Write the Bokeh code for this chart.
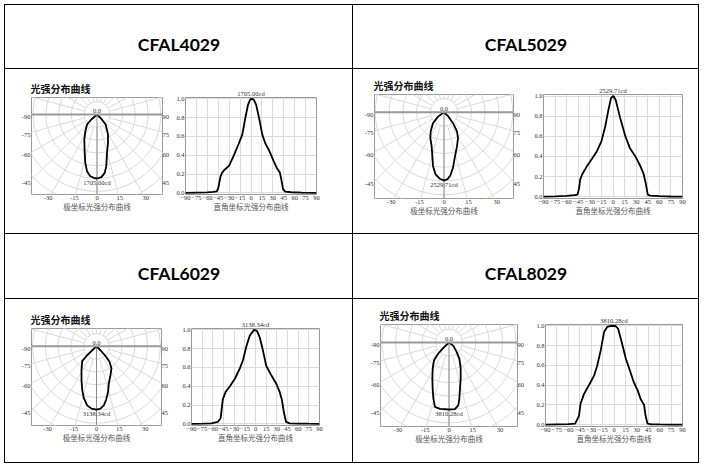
import numpy as np
from bokeh.plotting import figure
from bokeh.layouts import row, column
from bokeh.models import (Range1d, Label, FixedTicker, PrintfTickFormatter, Spacer, Title,
                          LinearAxis, CustomJSTickFormatter, Span)
from bokeh.embed import file_html
from bokeh.resources import INLINE

# ---------------- data ----------------
products = ["CFAL4029", "CFAL5029", "CFAL6029", "CFAL8029"]
peak_cd = ["1705.00cd", "2529.71cd", "3138.34cd", "3810.28cd"]
polar_title = "光强分布曲线"
polar_caption = "极坐标光强分布曲线"
cart_caption = "直角坐标光强分布曲线"
polar_left_ticks = [-90, -75, -60, -45]
polar_right_ticks = [90, 75, 60, 45]
polar_bottom_ticks = [-30, -15, 0, 15, 30]
polar_center_label = "0.0"
cart_x_ticks = [-90, -75, -60, -45, -30, -15, 0, 15, 30, 45, 60, 75, 90]
cart_y_ticks = [0.0, 0.2, 0.4, 0.6, 0.8, 1.0]
grid_radii = [0.2, 0.4, 0.6, 0.8, 1.0, 1.2, 1.4, 1.6, 1.8, 2.0]
ray_angles = list(range(0, 360, 15))

# polar curves (angle from nadir in degrees, relative intensity)
polar_ang_4029 = [-90, -48.6, -45, -35, -26.9, -17.8, -13.6, -10, -6.2, -3, 0, 4, 7.5, 10.2, 14.6, 21.2, 28.8, 40.9, 45, 90]
polar_r_4029 = [0, 0.118, 0.22, 0.318, 0.438, 0.63, 0.777, 0.9, 0.97, 0.99, 1.0, 0.98, 0.92, 0.82, 0.62, 0.475, 0.357, 0.207, 0.096, 0]
polar_ang_5029 = [-90, -54.2, -45, -34.6, -27.7, -19.8, -14.7, -11.4, -7.6, -3.7, 0, 2.8, 5.7, 9.1, 13.1, 20.7, 28.3, 33.9, 39.3, 47.5, 90]
polar_r_5029 = [0, 0.108, 0.227, 0.342, 0.428, 0.531, 0.668, 0.807, 0.921, 0.978, 1.0, 0.987, 0.932, 0.826, 0.688, 0.535, 0.43, 0.339, 0.207, 0.079, 0]
polar_ang_6029 = [-90, -47.3, -46, -43.7, -32, -23.8, -18, -13.6, -8.9, -4.5, 0, 3.6, 7, 10.1, 14.3, 18.3, 25.8, 33.9, 39.7, 42.8, 45, 90]
polar_r_6029 = [0, 0.092, 0.203, 0.324, 0.442, 0.581, 0.723, 0.841, 0.944, 0.987, 1.0, 0.986, 0.939, 0.857, 0.736, 0.614, 0.503, 0.42, 0.318, 0.192, 0.088, 0]
polar_ang_8029 = [-90, -46.7, -44.1, -40.3, -32.1, -24.8, -19.6, -15.6, -12.3, -7.7, 0, 5.1, 8.5, 10.5, 13.4, 18, 24.2, 32.9, 39.4, 52.4, 90]
polar_r_8029 = [0, 0.116, 0.229, 0.346, 0.458, 0.592, 0.728, 0.868, 0.983, 1.0, 1.0, 0.999, 0.945, 0.85, 0.706, 0.565, 0.425, 0.284, 0.18, 0.082, 0]

# cartesian curves
cart_ang_4029 = [-90, -75, -60, -52, -47, -45, -42, -40, -37, -30, -24, -17, -12, -7.5, -4, -1, 1, 4, 7, 11, 15.5, 20, 25, 31, 35, 39.5, 41.5, 44, 47, 55, 70, 90]
cart_val_4029 = [0, 0.002, 0.004, 0.01, 0.015, 0.05, 0.17, 0.21, 0.24, 0.29, 0.39, 0.52, 0.62, 0.81, 0.94, 0.995, 1.0, 0.99, 0.94, 0.8, 0.62, 0.52, 0.45, 0.34, 0.27, 0.22, 0.15, 0.04, 0.012, 0.006, 0.003, 0]
cart_ang_5029 = [-90, -75, -60, -50, -46, -44, -42.5, -40, -34, -27, -21, -15, -10, -6, -2.5, 0.5, 3.5, 9, 16, 22, 29, 35, 39.5, 42.5, 45, 48, 60, 75, 90]
cart_val_5029 = [0, 0.003, 0.008, 0.015, 0.02, 0.08, 0.17, 0.22, 0.30, 0.38, 0.45, 0.55, 0.70, 0.86, 0.98, 1.0, 0.96, 0.79, 0.60, 0.48, 0.40, 0.31, 0.23, 0.13, 0.02, 0.01, 0.005, 0.002, 0]
cart_ang_6029 = [-90, -75, -62, -53, -49, -46, -42, -36, -29, -22, -17.5, -13, -8, -2, 2, 6, 10.5, 15, 22, 29, 34, 37, 40, 43, 48, 60, 75, 90]
cart_val_6029 = [0, 0.002, 0.005, 0.02, 0.06, 0.26, 0.34, 0.40, 0.48, 0.59, 0.68, 0.82, 0.94, 1.0, 0.99, 0.92, 0.78, 0.62, 0.52, 0.43, 0.34, 0.26, 0.12, 0.02, 0.005, 0.003, 0.001, 0]
cart_ang_8029 = [-90, -75, -60, -51, -46, -44, -39.5, -33, -26, -22, -17.5, -13, -9, -4, 2, 5.5, 10, 15.5, 20, 26, 31, 35, 39.5, 41.5, 44, 48, 60, 75, 90]
cart_val_8029 = [0, 0.003, 0.006, 0.012, 0.09, 0.21, 0.31, 0.40, 0.50, 0.60, 0.75, 0.94, 0.99, 1.0, 1.0, 0.97, 0.84, 0.67, 0.57, 0.43, 0.35, 0.26, 0.2, 0.09, 0.012, 0.005, 0.003, 0.001, 0]

polar_data = [(polar_ang_4029, polar_r_4029), (polar_ang_5029, polar_r_5029),
              (polar_ang_6029, polar_r_6029), (polar_ang_8029, polar_r_8029)]
cart_data = [(cart_ang_4029, cart_val_4029), (cart_ang_5029, cart_val_5029),
             (cart_ang_6029, cart_val_6029), (cart_ang_8029, cart_val_8029)]

# ---------------- styling / layout ----------------
SERIF = "Liberation Serif"
CJK = "Noto Sans CJK SC"
TICK_SIZE = "6.5px"
TICK_COLOR = "#333333"
GRID = "#dadada"
FRAME = "#9a9a9a"

cells = [
    dict(H=164, pw=168, pl=26, pt=28, pfw=131, pfh=97, oy=17, s=64.0,
         cw=179, cl=12, ct=28, cfw=131, cfh=97),
    dict(H=164, pw=172, pl=21, pt=25, pfw=139, pfh=105, oy=18, s=68.7,
         cw=173, cl=18, ct=24, cfw=139, cfh=105),
    dict(H=163, pw=168, pl=26, pt=28, pfw=130, pfh=98, oy=18, s=64.0,
         cw=179, cl=18, ct=29, cfw=128, cfh=98),
    dict(H=163, pw=174, pl=27, pt=25, pfw=137, pfh=102, oy=18, s=67.0,
         cw=171, cl=18, ct=25, cfw=137, cfh=102),
]

JS_LOOKUP = """
const k = (tick + 0).toFixed(4);
const i = keys.indexOf(k);
return i >= 0 ? labels[i] : "";
"""


def style_axis(ax, standoff=1):
    ax.axis_line_color = None
    ax.major_tick_line_color = None
    ax.minor_tick_line_color = None
    ax.major_tick_out = 0
    ax.major_tick_in = 0
    ax.minor_tick_out = 0
    ax.minor_tick_in = 0
    ax.major_label_text_font = SERIF
    ax.major_label_text_font_size = TICK_SIZE
    ax.major_label_text_color = TICK_COLOR
    ax.major_label_standoff = standoff


def angle_axis(positions, names, standoff):
    pos = [round(float(v), 4) + 0.0 for v in positions]
    order = np.argsort(pos)
    pos = [pos[i] for i in order]
    names = [str(names[i]) for i in order]
    fmt = CustomJSTickFormatter(args=dict(keys=[f"{v:.4f}" for v in pos], labels=names),
                                code=JS_LOOKUP)
    ax = LinearAxis(ticker=FixedTicker(ticks=pos), formatter=fmt)
    style_axis(ax, standoff)
    return ax


def polar_fig(g, H, ang, rr, peak):
    W, left, top, fw, fh, oy, s = g["pw"], g["pl"], g["pt"], g["pfw"], g["pfh"], g["oy"], g["s"]
    right = W - left - fw
    bottom = H - top - fh
    px = 1.0 / s
    xl, xr = -fw / 2.0 * px, fw / 2.0 * px
    yt, yb = oy * px, -(fh - oy) * px
    p = figure(width=W, height=H, x_range=Range1d(xl, xr), y_range=Range1d(yb, yt),
               min_border_left=left, min_border_right=right, min_border_top=top,
               min_border_bottom=bottom, toolbar_location=None, output_backend="svg",
               x_axis_location=None, y_axis_location=None, title=None)
    p.xgrid.visible = False
    p.ygrid.visible = False
    p.outline_line_color = FRAME
    p.add_layout(Title(text=polar_title, align="left", offset=-1, standoff=3,
                       text_font=CJK, text_font_size="10px", text_font_style="bold",
                       text_color="#111111"), "above")
    # grid circles and rays (clipped by the frame)
    p.circle(x=[0] * len(grid_radii), y=[0] * len(grid_radii), radius=grid_radii,
             fill_color=None, line_color=GRID, line_width=1)
    a = np.radians(ray_angles)
    r0, r1 = grid_radii[0], 4.0
    p.segment(x0=r0 * np.sin(a), y0=-r0 * np.cos(a), x1=r1 * np.sin(a), y1=-r1 * np.cos(a),
              line_color=GRID, line_width=1)
    p.add_layout(Span(location=0, dimension="width", line_color=FRAME, line_width=2))
    p.segment(x0=[0], y0=[0], x1=[0], y1=[yb], line_color="#8a8a8a", line_width=1)
    # curve
    ar = np.radians(ang)
    rr = np.array(rr)
    p.line(rr * np.sin(ar), -rr * np.cos(ar), line_color="black", line_width=1.8)
    # angle labels as axes placed where the rays leave the chart box
    la = np.radians(polar_left_ticks)
    ax_l = angle_axis(-xl * np.cos(la) / np.sin(la) - 2.5 * px, polar_left_ticks, 1)
    p.add_layout(ax_l, "left")
    ra = np.radians(polar_right_ticks)
    ax_r = angle_axis(-xr * np.cos(ra) / np.sin(ra) - 2.5 * px, polar_right_ticks, 0)
    p.add_layout(ax_r, "right")
    ba = np.radians(polar_bottom_ticks)
    Y = yb - 4.5 * px
    ax_b = angle_axis(-Y * np.tan(ba), polar_bottom_ticks, 1)
    ax_b.axis_label = polar_caption
    ax_b.axis_label_text_font = CJK
    ax_b.axis_label_text_font_size = "7.5px"
    ax_b.axis_label_text_font_style = "normal"
    ax_b.axis_label_text_color = "#555555"
    ax_b.axis_label_standoff = -2
    p.add_layout(ax_b, "below")
    # in-chart labels
    p.add_layout(Label(x=0, y=1.5 * px, text=polar_center_label, text_align="center",
                       text_baseline="bottom", text_font=SERIF, text_font_size=TICK_SIZE,
                       text_color=TICK_COLOR))
    p.add_layout(Label(x=0, y=-1.0 - 0.5 * px, text=peak, text_align="center",
                       text_baseline="top", text_font=SERIF, text_font_size=TICK_SIZE,
                       text_color=TICK_COLOR))
    return p


def cart_fig(g, H, ang, val, peak):
    W, left, top, fw, fh = g["cw"], g["cl"], g["ct"], g["cfw"], g["cfh"]
    right = W - left - fw
    bottom = H - top - fh
    y0, y1 = -0.018, 1.015
    p = figure(width=W, height=H, x_range=Range1d(-90, 90), y_range=Range1d(y0, y1),
               min_border_left=left, min_border_right=right, min_border_top=top,
               min_border_bottom=bottom, toolbar_location=None, output_backend="svg",
               title=None)
    p.add_layout(Title(text=peak, align="center", text_font=SERIF, text_font_size=TICK_SIZE,
                       text_color=TICK_COLOR, text_font_style="normal", standoff=2,
                       offset=0), "above")
    p.outline_line_color = FRAME
    p.xaxis.ticker = FixedTicker(ticks=cart_x_ticks)
    p.yaxis.ticker = FixedTicker(ticks=cart_y_ticks)
    p.yaxis.formatter = PrintfTickFormatter(format="%.1f")
    p.xgrid.ticker = FixedTicker(ticks=cart_x_ticks)
    p.ygrid.ticker = FixedTicker(ticks=cart_y_ticks)
    p.grid.grid_line_color = "#dcdcdc"
    for ax in p.axis:
        style_axis(ax, 1)
    p.xaxis.axis_label = cart_caption
    p.xaxis.axis_label_text_font = CJK
    p.xaxis.axis_label_text_font_size = "7.5px"
    p.xaxis.axis_label_text_font_style = "normal"
    p.xaxis.axis_label_text_color = "#555555"
    p.xaxis.axis_label_standoff = -2
    p.line(ang, val, line_color="black", line_width=1.8)
    return p


def header_fig(text, W, H):
    p = figure(width=W, height=H, x_range=Range1d(0, W), y_range=Range1d(H, 0),
               min_border=0, toolbar_location=None, output_backend="svg",
               x_axis_location=None, y_axis_location=None, title=None)
    p.xgrid.visible = False
    p.ygrid.visible = False
    p.outline_line_color = None
    p.add_layout(Label(x=W / 2.0, y=39, text=text, text_align="center", text_baseline="middle",
                       text_font="Lato", text_font_style="bold", text_font_size="17.5px",
                       text_color="black"))
    return p


def vline(h):
    return Spacer(width=1, height=h, styles={"background-color": "black"}, margin=0)


def hline(w):
    return Spacer(width=w, height=1, styles={"background-color": "black"}, margin=0)


CW = [347, 345]
TW = 1 + CW[0] + 1 + CW[1] + 1
HH = [63, 64]

bodies = []
for i in range(4):
    g = cells[i]
    pf = polar_fig(g, g["H"], polar_data[i][0], polar_data[i][1], peak_cd[i])
    cf = cart_fig(g, g["H"], cart_data[i][0], cart_data[i][1], peak_cd[i])
    bodies.append(row(pf, cf, spacing=0))

rows = []
for k in range(2):
    hh = HH[k]
    bh = cells[2 * k]["H"]
    rows.append(hline(TW))
    rows.append(row(vline(hh), header_fig(products[2 * k], CW[0], hh), vline(hh),
                    header_fig(products[2 * k + 1], CW[1], hh), vline(hh), spacing=0))
    rows.append(hline(TW))
    rows.append(row(vline(bh), bodies[2 * k], vline(bh), bodies[2 * k + 1], vline(bh), spacing=0))
rows.append(hline(TW))

root = column(*rows, spacing=0, margin=(4, 0, 0, 4))

open("out.html", "w").write(file_html(root, INLINE))
